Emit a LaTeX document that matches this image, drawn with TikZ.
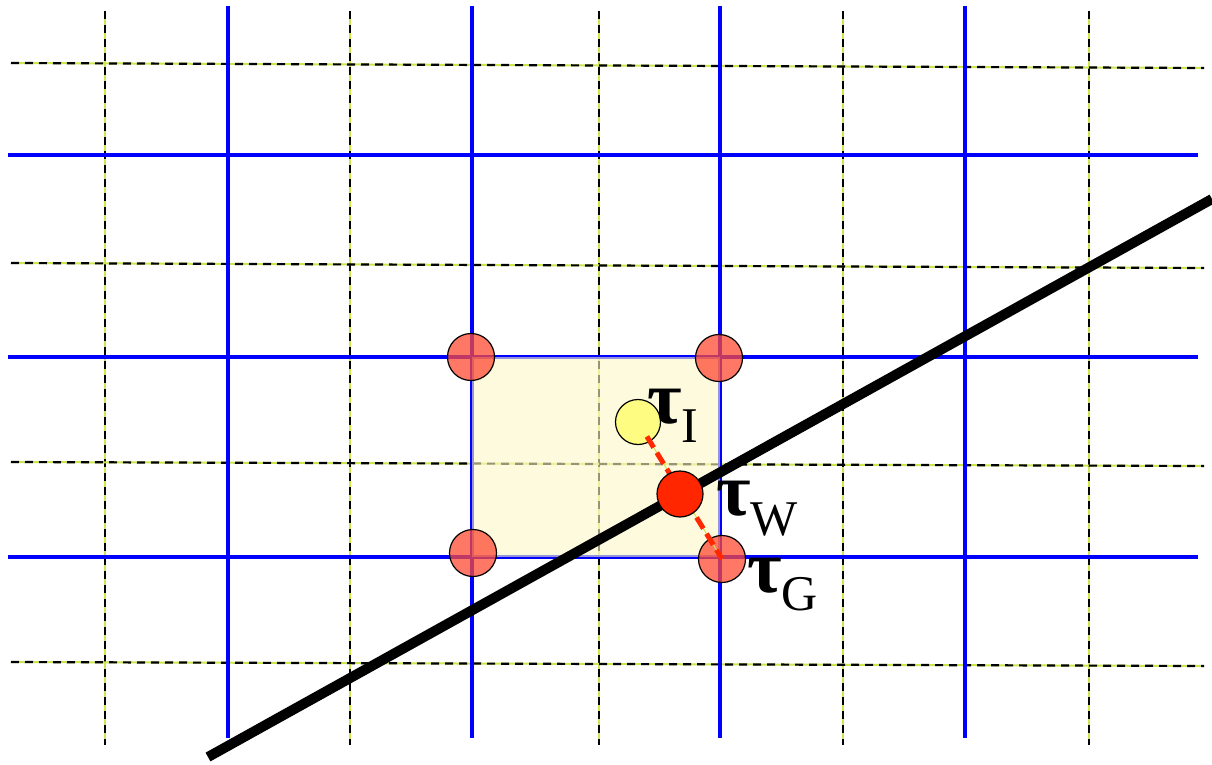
\documentclass[tikz,border=0pt]{standalone}
\usepackage{fontspec}
\setmainfont{Liberation Serif}
\definecolor{gridyel}{RGB}{205,230,80}
\definecolor{cellfill}{RGB}{252,247,200}
\definecolor{corner}{RGB}{255,75,50}
\definecolor{interp}{RGB}{255,252,130}
\definecolor{wall}{RGB}{255,38,0}
\definecolor{dashred}{RGB}{255,40,0}
\newcommand{\bigtau}{\scalebox{1.5}{\textbf{τ}}}
\begin{document}
\begin{tikzpicture}[x=1pt,y=-1pt,
  blueline/.style={draw=blue, line width=3.6pt},
  yelunder/.style={draw=gridyel, line width=2pt},
  blackdash/.style={draw=black, line width=2.2pt, dash pattern=on 8pt off 6pt},
  cornerdot/.style={circle, draw=black, line width=1.2pt, fill=corner, fill opacity=0.75, draw opacity=1, minimum size=47pt, inner sep=0pt},
  interpdot/.style={circle, draw=black, line width=1.2pt, fill=interp, minimum size=45pt, inner sep=0pt},
  walldot/.style={circle, draw=black, line width=1.2pt, fill=wall, minimum size=46pt, inner sep=0pt},
  tlabel/.style={anchor=base west, inner sep=0pt, font=\fontsize{50}{50}\selectfont},
]
\useasboundingbox (0,0) rectangle (1212,765);
\fill[white] (0,0) rectangle (1212,765);
% dashed fine grid
\foreach \x in {105,350,599,843,1089} {
  \draw[yelunder] (\x,11) -- (\x,745);
  \draw[blackdash] (\x,11) -- (\x,745);
}
\foreach \ya/\yb in {63/68,263/268,462/466,662/666} {
  \draw[yelunder] (11,\ya) -- (1204,\yb);
  \draw[blackdash] (11,\ya) -- (1204,\yb);
}
% blue coarse grid
\foreach \x in {228,472,720,965} {
  \draw[blueline] (\x,6) -- (\x,738);
}
\foreach \y in {155,357,557} {
  \draw[blueline] (8,\y) -- (1198,\y);
}
% cell
\fill[cellfill, fill opacity=0.6] (472,357) rectangle (720,557);
% interface
\draw[line width=10pt] (208,757) -- (1212,199);
% nodes
\node[cornerdot] (c1) at (471,357) {};
\node[cornerdot] (c2) at (719,358) {};
\node[cornerdot] (c3) at (473,553) {};
\node[cornerdot] (tG) at (722,559) {};
\node[interpdot] (tI) at (638,422) {};
\draw[gridyel, line width=1pt, shorten <=17pt] (tI.center) -- (tG.center);
\draw[dashred, line width=5pt, dash pattern=on 13pt off 6pt, shorten <=17pt] (tI.center) -- (tG.center);
\node[walldot] (tW) at (680,494) {};
% labels
\node[tlabel] (lI) at (647,423) {\bigtau\raisebox{-19pt}{I}};
\node[tlabel] (lW) at (716,515) {\bigtau\raisebox{-20pt}{W}};
\node[tlabel] (lG) at (747,592) {\bigtau\raisebox{-18pt}{G}};
\end{tikzpicture}
\end{document}
